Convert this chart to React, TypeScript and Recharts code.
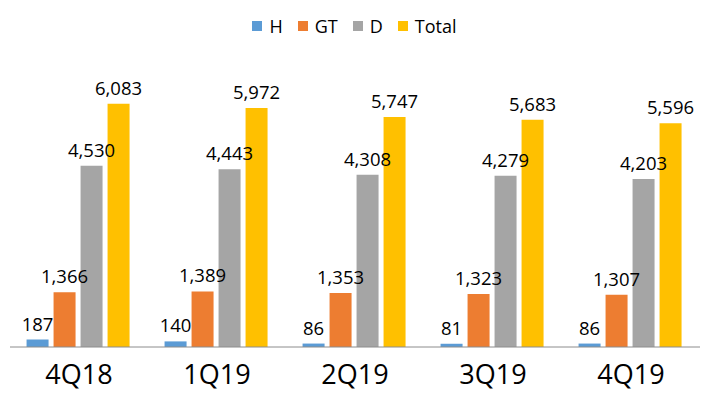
import { BarChart, Bar, XAxis, YAxis, Legend, LabelList } from 'recharts';

const quarters = ['4Q18', '1Q19', '2Q19', '3Q19', '4Q19'];
const hValues = [187, 140, 86, 81, 86];
const gtValues = [1366, 1389, 1353, 1323, 1307];
const dValues = [4530, 4443, 4308, 4279, 4203];
const totalValues = [6083, 5972, 5747, 5683, 5596];

const seriesNames = ['H', 'GT', 'D', 'Total'];
const seriesColors = ['#5B9BD5', '#ED7D31', '#A5A5A5', '#FFC000'];

const data = quarters.map((q, i) => ({
  quarter: q,
  H: hValues[i],
  GT: gtValues[i],
  D: dValues[i],
  Total: totalValues[i],
}));

const fmt = (v: any) => Number(v).toLocaleString('en-US');

const labelStyle = { fill: '#000', fontSize: 18.5 };

const TopLegend = () => (
  <div style={{ display: 'flex', justifyContent: 'center', alignItems: 'center', paddingTop: 14, paddingLeft: 14, fontSize: 18, color: '#000' }}>
    {seriesNames.map((n, i) => (
      <span key={n} style={{ display: 'inline-flex', alignItems: 'center', marginRight: 15 }}>
        <span style={{ width: 10, height: 10, background: seriesColors[i], display: 'inline-block', marginRight: 7 }} />
        {n}
      </span>
    ))}
  </div>
);

export default function App() {
  return (
    <div style={{ position: 'absolute', left: 0, top: 0, background: '#fff', fontFamily: 'Open Sans, sans-serif' }}>
      <BarChart
        width={706}
        height={399}
        data={data}
        margin={{ top: 0, right: 6, bottom: 0, left: 10 }}
        barCategoryGap="12%"
        barGap={5}
      >
        <Legend verticalAlign="top" align="center" height={67} content={<TopLegend />} />
        <XAxis
          dataKey="quarter"
          tickLine={false}
          axisLine={{ stroke: '#8c8c8c' }}
          tick={{ fill: '#000', fontSize: 27 }}
          height={52}
          tickMargin={12}
        />
        <YAxis hide domain={[0, 7000]} />
        {seriesNames.map((n, i) => (
          <Bar key={n} dataKey={n} fill={seriesColors[i]} isAnimationActive={false}>
            <LabelList dataKey={n} position="top" offset={9} formatter={fmt} style={labelStyle} />
          </Bar>
        ))}
      </BarChart>
    </div>
  );
}
